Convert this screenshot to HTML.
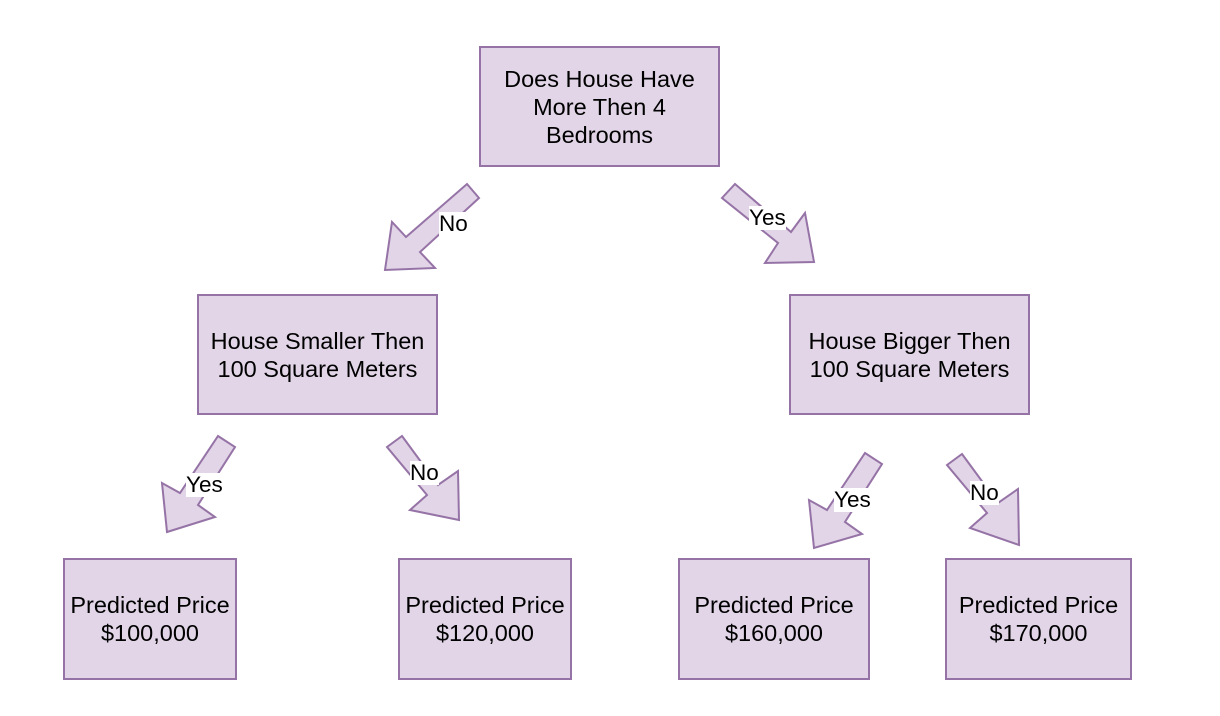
<!DOCTYPE html>
<html><head><style>
body{margin:0;width:1220px;height:716px;background:#fff;overflow:hidden;position:relative;font-family:"Liberation Sans",Arial,sans-serif}
.b{position:absolute;background:#e1d5e7;border:2px solid #9673a6;box-sizing:border-box;display:flex;align-items:center;justify-content:center;text-align:center;font-size:23.5px;line-height:28px;color:#000;white-space:nowrap}
.l{position:absolute;background:#fff;font-size:22.5px;line-height:24px;color:#000}
svg{position:absolute;left:0;top:0}
</style></head><body>
<svg width="1220" height="716"><g fill="#e1d5e7" stroke="#9673a6" stroke-width="2" stroke-linejoin="miter">
<polygon points="467,184 479,198 420,252 435,268 385,270 392,222 406,237"/>
<polygon points="735,184 791,232 805,213 814,262 765,263 778,243 722,198"/>
<polygon points="218,436 235,447 198,505 215,517 167,532 162,483 180,493"/>
<polygon points="402,436 438,485 458,471 459,520 410,510 427,495 387,447"/>
<polygon points="865,453 882,464 845,522 862,534 814,548 809,500 827,510"/>
<polygon points="962,454 998,503 1018,489 1019,545 970,528 987,513 947,465"/>
</g></svg>
<div class="b" style="left:479px;top:46px;width:241px;height:121px">Does House Have<br>More Then 4<br>Bedrooms</div>
<div class="b" style="left:197px;top:294px;width:241px;height:121px">House Smaller Then<br>100 Square Meters</div>
<div class="b" style="left:789px;top:294px;width:241px;height:121px">House Bigger Then<br>100 Square Meters</div>
<div class="b" style="left:63px;top:558px;width:174px;height:122px">Predicted Price<br>$100,000</div>
<div class="b" style="left:398px;top:558px;width:174px;height:122px">Predicted Price<br>$120,000</div>
<div class="b" style="left:678px;top:558px;width:192px;height:122px">Predicted Price<br>$160,000</div>
<div class="b" style="left:945px;top:558px;width:187px;height:122px">Predicted Price<br>$170,000</div>
<div class="l" style="left:439px;top:212px">No</div>
<div class="l" style="left:749px;top:206px">Yes</div>
<div class="l" style="left:186px;top:473px">Yes</div>
<div class="l" style="left:410px;top:461px">No</div>
<div class="l" style="left:834px;top:488px">Yes</div>
<div class="l" style="left:970px;top:481px">No</div>
</body></html>
